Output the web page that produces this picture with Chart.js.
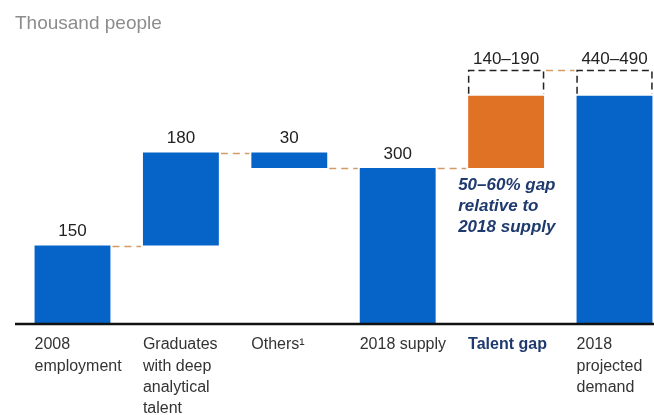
<!DOCTYPE html>
<html>
<head>
<meta charset="utf-8">
<script src="https://cdn.jsdelivr.net/npm/chart.js@4.4.1/dist/chart.umd.min.js"></script>
<style>
  html, body { margin: 0; padding: 0; background: #fff; overflow: hidden; }
  #gapChart { display: block; }
</style>
</head>
<body>
<canvas id="gapChart" width="654" height="415"></canvas>
<script>
const categories = [
  ['2008', 'employment'],
  ['Graduates', 'with deep', 'analytical', 'talent'],
  ['Others¹'],
  ['2018 supply'],
  ['Talent gap'],
  ['2018', 'projected', 'demand'],
];

// thousand people
const employment2008 = 150;
const graduates = 180;
const others = -30;
const supply2018 = 300;
const talentGap = [140, 190];
const demand2018 = [440, 490];

const valueLabels = ['150', '180', '30', '300', '140–190', '440–490'];
const gapNote = ['50–60% gap', 'relative to', '2018 supply'];

const FONT = '"Liberation Sans", Arial, sans-serif';
const BLUE = '#0664C9';
const ORANGE = '#E07226';
const NAVY = '#1F3A6E';

// waterfall steps -> floating bars
const afterGrads = employment2008 + graduates;
const bars = [
  [0, employment2008],
  [employment2008, afterGrads],
  [afterGrads + others, afterGrads],
  [0, supply2018],
  [supply2018, supply2018 + talentGap[0]],
  [0, demand2018[0]],
];
// uncertain part of the last two bars, drawn as dashed boxes
const ranges = {
  4: [supply2018 + talentGap[0], supply2018 + talentGap[1]],
  5: demand2018,
};
// level carried from one bar to the next
const levels = [employment2008, afterGrads, afterGrads + others, supply2018, supply2018 + talentGap[1]];

const overlay = {
  id: 'overlay',
  afterDatasetsDraw(chart) {
    const { ctx } = chart;
    const y = chart.scales.y;
    const els = chart.getDatasetMeta(0).data;
    const edges = els.map((el) => {
      const { x, width } = el.getProps(['x', 'width'], true);
      return { l: x - width / 2, r: x + width / 2, x };
    });

    ctx.save();

    // baseline, running the full width
    const base = y.getPixelForValue(0) + 1;
    ctx.strokeStyle = '#111';
    ctx.lineWidth = 2.5;
    ctx.beginPath();
    ctx.moveTo(15, base);
    ctx.lineTo(chart.width, base);
    ctx.stroke();

    // connectors between bars
    ctx.strokeStyle = '#D39A63';
    ctx.lineWidth = 1.5;
    ctx.setLineDash([7, 5]);
    levels.forEach((v, i) => {
      const py = Math.round(y.getPixelForValue(v)) + 0.5;
      ctx.beginPath();
      ctx.moveTo(edges[i].r + 2, py);
      ctx.lineTo(edges[i + 1].l - 2, py);
      ctx.stroke();
    });

    // dashed range boxes
    ctx.strokeStyle = '#222';
    ctx.lineWidth = 1.5;
    ctx.setLineDash([7, 4]);
    Object.keys(ranges).forEach((k) => {
      const [lo, hi] = ranges[k];
      const top = Math.round(y.getPixelForValue(hi)) + 0.5;
      const bot = y.getPixelForValue(lo) - 2;
      const e = edges[k];
      ctx.beginPath();
      ctx.moveTo(e.l + 0.5, bot);
      ctx.lineTo(e.l + 0.5, top);
      ctx.lineTo(e.r - 0.5, top);
      ctx.lineTo(e.r - 0.5, bot);
      ctx.stroke();
    });
    ctx.setLineDash([]);

    // value labels
    ctx.fillStyle = '#222';
    ctx.font = '17px ' + FONT;
    ctx.textAlign = 'center';
    ctx.textBaseline = 'middle';
    valueLabels.forEach((t, i) => {
      const top = ranges[i] ? ranges[i][1] : bars[i][1];
      const py = y.getPixelForValue(top) - (ranges[i] ? 11 : 14);
      ctx.fillText(t, edges[i].x, py);
    });

    // gap note under the talent gap bar
    ctx.fillStyle = NAVY;
    ctx.font = 'italic bold 17px ' + FONT;
    ctx.textAlign = 'left';
    const noteTop = y.getPixelForValue(supply2018) + 17;
    gapNote.forEach((t, i) => ctx.fillText(t, edges[4].l - 10, noteTop + i * 21));

    // unit caption
    ctx.fillStyle = '#8C8C8C';
    ctx.font = '19px ' + FONT;
    ctx.fillText('Thousand people', 15, 24);

    ctx.restore();
  },
};

new Chart(document.getElementById('gapChart'), {
  type: 'bar',
  data: {
    labels: categories,
    datasets: [{
      data: bars,
      backgroundColor: bars.map((_, i) => (i === 4 ? ORANGE : BLUE)),
      borderSkipped: false,
      barPercentage: 0.7,
      categoryPercentage: 1,
      clip: false,
    }],
  },
  options: {
    responsive: false,
    animation: false,
    // chart area spans first to last bar centre; the last bar sits near the right edge
    layout: { padding: { top: 44, left: 72.5, right: 39.5, bottom: 0 } },
    plugins: { legend: { display: false }, tooltip: { enabled: false } },
    scales: {
      x: {
        offset: false,
        grid: { display: false, drawTicks: false },
        border: { display: false },
        afterFit: (scale) => {
          scale.height = 92;
          scale.paddingLeft = 0;
          scale.paddingRight = 0;
        },
        ticks: {
          autoSkip: false,
          maxRotation: 0,
          align: 'start',
          labelOffset: -38,
          padding: 11,
          color: (c) => (c.index === 4 ? NAVY : '#333'),
          font: (c) => ({ family: FONT, size: 16, weight: c.index === 4 ? 'bold' : 'normal', lineHeight: 1.34 }),
        },
      },
      y: { display: false, min: 0, max: 540 },
    },
  },
  plugins: [overlay],
});
</script>
</body>
</html>
